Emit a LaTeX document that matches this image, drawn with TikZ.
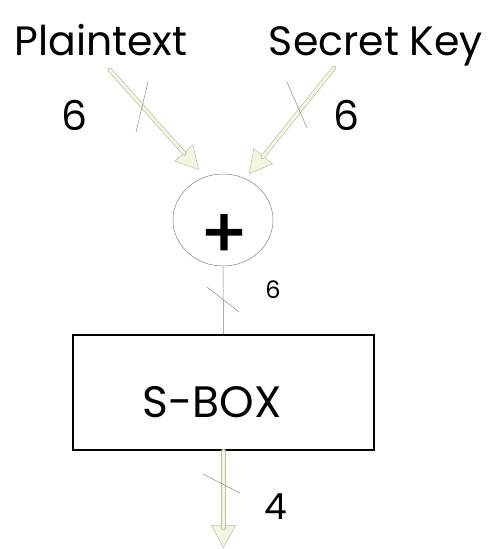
\documentclass[tikz,border=0pt]{standalone}
\usepackage{fontspec}
\setmainfont{Poppins}
\newfontfamily\plusfont{Poppins}[FakeBold = 2.5]
\usetikzlibrary{arrows.meta,shapes.geometric}

\definecolor{pipefill}{HTML}{F1F6DE}
\definecolor{pipeedge}{HTML}{B9C2A4}
\definecolor{slashgray}{HTML}{8C8C8C}

\begin{document}
\begin{tikzpicture}[
    x = 1pt, y = -1pt,
    every node/.style = {inner sep = 0pt},
    title/.style = {font = \fontsize{41}{50}\selectfont, anchor = base},
    buswidth/.style = {font = \fontsize{41}{50}\selectfont},
    pipe/.style = {draw = pipeedge, line width = 0.7pt, double = pipefill,
                   double distance = 3pt, line cap = round},
    pipetip/.style = {draw = pipeedge, line width = 0.5pt,
                      -{Triangle[length = 23pt, width = 25pt, fill = pipefill]}},
    slash/.style = {draw = slashgray, line width = 0.5pt}]

\useasboundingbox (0,0) rectangle (492,549);

% inputs
\node[title] (pt)  at (101,55) {Plaintext};
\node[title] (key) at (376,55) {Secret Key};

% xor and s-box
\node[ellipse, draw = gray, line width = 0.5pt,
      minimum width = 100pt, minimum height = 92pt] (xor) at (223,220) {};
\node[font = \plusfont\fontsize{68}{72}\selectfont] (plus) at (224,236) {+};
\node[rectangle, draw, line width = 2pt,
      minimum width = 301pt, minimum height = 115pt] (sbox) at (223.5,392.5) {};
\node[font = \fontsize{44}{52}\selectfont] (sboxtxt) at (212,402) {S-BOX};

\coordinate (pt-out)  at (110,70);
\coordinate (xor-w)   at (199,170);
\coordinate (key-out) at (334,68);
\coordinate (xor-e)   at (249,174);
\coordinate (out)     at (sbox.south |- 0,548);

% pipes: head first, shaft on top
\draw[pipetip] (pt-out) -- (xor-w);
\draw[pipetip] (key-out) -- (xor-e);
\draw[pipetip] (sbox.south) -- (out);
\draw[pipe, shorten >= 22pt] (pt-out) -- (xor-w);
\draw[pipe, shorten >= 22pt] (key-out) -- (xor-e);
\draw[pipe, shorten >= 20pt] (sbox.south) -- (out);

\draw[draw = gray, line width = 0.5pt] (xor.south) -- (sbox.north);

% bus widths
\draw[slash] (148,82) -- (136,132)
             (287,82) -- (307,128)
             (207,287) -- (239,312)
             (203,474) -- (240,493);
\node[buswidth] (w1) at (75,115) {6};
\node[buswidth] (w2) at (347,115) {6};
\node[font = \fontsize{24}{28}\selectfont] (w3) at (273,290) {6};
\node[font = \fontsize{36}{42}\selectfont] (w4) at (276,507) {4};
\end{tikzpicture}
\end{document}
